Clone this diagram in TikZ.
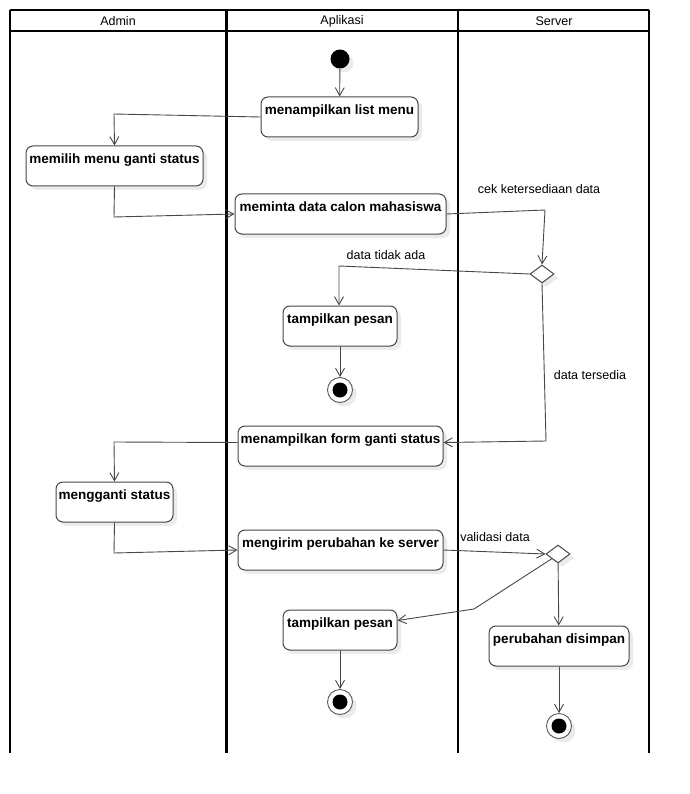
\documentclass[tikz,border=0pt]{standalone}
\usepackage{fontspec}
\setmainfont{Liberation Sans}
\usetikzlibrary{arrows.meta,shapes.geometric,shadows,calc}
\begin{document}
\begin{tikzpicture}[x=1pt,y=-1pt,
  lane/.style={line width=2pt, black},
  hdr/.style={font=\fontsize{12.5}{14}\selectfont, inner sep=0pt},
  lbl/.style={font=\fontsize{12.5}{14}\selectfont, inner sep=0pt},
  shad/.style={general shadow={fill=black!8, shadow xshift=4pt, shadow yshift=-4pt}},
  act/.style={draw=black!72, line width=1pt, rounded corners=7pt, fill=white, shad, inner sep=0pt},
  boxtext/.style={anchor=base, yshift=-18pt, inner sep=0pt, font=\bfseries\fontsize{13.5}{16}\selectfont},
  dec/.style={diamond, draw=black!72, line width=1pt, fill=white, shad, inner sep=0pt, minimum width=24pt, minimum height=18pt},
  startnode/.style={circle, fill=black, inner sep=0pt, minimum size=19pt, shad},
  endnode/.style={circle, draw=black!65, line width=0.9pt, fill=white, inner sep=0pt, minimum size=25pt, shad,
    path picture={\fill[black] (path picture bounding box.center) circle (7.5pt);}},
  flow/.style={draw=black!72, line width=0.9pt, -{Straight Barb[length=8pt,width=9pt]}}
]
\useasboundingbox (0,0) rectangle (689,794);

% swimlanes
\draw[line width=1.6pt] (10,10) -- (649,10);
\draw[line width=1.6pt] (10,31) -- (649,31);
\draw[lane] (10,10) -- (10,753);
\draw[line width=3pt] (226,10) -- (226,753);
\draw[lane] (458,10) -- (458,753);
\draw[lane] (649,10) -- (649,753);
\node[hdr] (hA) at (118,21) {Admin};
\node[hdr] (hB) at (342,21) {Aplikasi};
\node[hdr] (hC) at (554,21) {Server};

% nodes
\node[startnode] (st) at (340,59) {};
\node[act, minimum width=157pt, minimum height=40pt, label={[boxtext]north:menampilkan list menu}] (lm) at (339.5,117) {};
\node[act, minimum width=177pt, minimum height=40pt, label={[boxtext]north:memilih menu ganti status}] (mm) at (114.5,166) {};
\node[act, minimum width=211pt, minimum height=40pt, label={[boxtext]north:meminta data calon mahasiswa}] (md) at (340.5,214) {};
\node[dec] (d1) at (542,274) {};
\node[act, minimum width=114pt, minimum height=40pt, label={[boxtext]north:tampilkan pesan}] (tp1) at (340,326) {};
\node[endnode] (e1) at (340,390) {};
\node[act, minimum width=205pt, minimum height=40pt, label={[boxtext]north:menampilkan form ganti status}] (fg) at (340.5,446) {};
\node[act, minimum width=117pt, minimum height=40pt, label={[boxtext]north:mengganti status}] (mg) at (114.5,502) {};
\node[act, minimum width=205pt, minimum height=40pt, label={[boxtext]north:mengirim perubahan ke server}] (mk) at (340.5,550) {};
\node[dec] (d2) at (558,554) {};
\node[act, minimum width=114pt, minimum height=40pt, label={[boxtext]north:tampilkan pesan}] (tp2) at (340,630) {};
\node[endnode] (e2) at (340,702) {};
\node[act, minimum width=140pt, minimum height=40pt, label={[boxtext]north:perubahan disimpan}] (pd) at (559,646) {};
\node[endnode] (e3) at (559,726) {};

% guard labels
\node[lbl] (l1) at (539,189) {cek ketersediaan data};
\node[lbl] (l2) at (386,255) {data tidak ada};
\node[lbl] (l3) at (590,375) {data tersedia};
\node[lbl] (l4) at (495,537) {validasi data};

% bend points
\coordinate (c1) at (114,114);
\coordinate (c2) at (114,217);
\coordinate (c3) at (545,210);
\coordinate (c4) at (339,266);
\coordinate (c5) at (546,441);
\coordinate (c6) at (114,442);
\coordinate (c7) at (114,553);
\coordinate (b1) at (474,609);

% connectors
\draw[flow] (st) -- (lm);
\draw[flow] (lm.west) -- (c1) -- (mm.north);
\draw[flow] (mm.south) -- (c2) -- (md.west);
\draw[flow] (md.east) -- (c3) -- (d1.north);
\draw[flow] (d1.west) -- (c4) -- (c4 |- tp1.north);
\draw[flow] (tp1) -- (e1);
\draw[flow] (d1.south) -- (c5) -- ($(fg.north east)+(0,17)$);
\draw[flow] ($(fg.north west)+(0,17)$) -- (c6) -- (mg.north);
\draw[flow] (mg.south) -- (c7) -- (mk.west);
\draw[flow] (mk.east) -- (d2.west);
\draw[flow] (d2.south west) -- (b1) -- ($(tp2.north east)+(0,11)$);
\draw[flow] (d2) -- (pd);
\draw[flow] (pd) -- (e3);
\draw[flow] (tp2) -- (e2);
\end{tikzpicture}
\end{document}
